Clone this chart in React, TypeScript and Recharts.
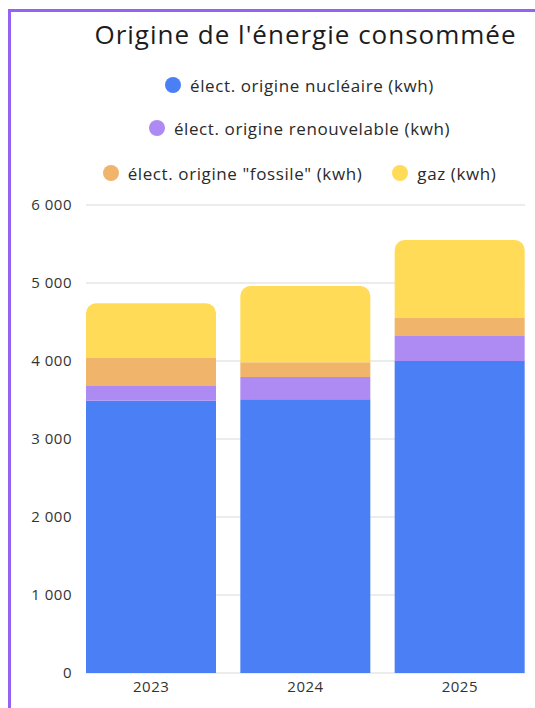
import React from "react";
import { BarChart, Bar, XAxis, YAxis, CartesianGrid, Legend } from "recharts";

const years = ["2023", "2024", "2025"];
const nucleaire = [3490, 3510, 4000];
const renouvelable = [190, 285, 320];
const fossile = [360, 190, 230];
const gaz = [700, 975, 1000];
const yTicks = [0, 1000, 2000, 3000, 4000, 5000, 6000];

const seriesNames = {
  nucleaire: "élect. origine nucléaire (kwh)",
  renouvelable: "élect. origine renouvelable (kwh)",
  fossile: 'élect. origine "fossile" (kwh)',
  gaz: "gaz (kwh)",
};
// legend rows, as in the original card
const legendRows = [["nucleaire"], ["renouvelable"], ["fossile", "gaz"]];

const data = years.map((year, i) => ({
  year,
  nucleaire: nucleaire[i],
  renouvelable: renouvelable[i],
  fossile: fossile[i],
  gaz: gaz[i],
}));

const FONT = "'Open Sans', sans-serif";

const fmt = (v: number) =>
  v >= 1000 ? `${Math.floor(v / 1000)} ${String(v % 1000).padStart(3, "0")}` : String(v);

// Title + three-row legend
const LegendBlock = ({ payload }: any) => {
  const byKey: Record<string, any> = {};
  (payload || []).forEach((p: any) => (byKey[p.dataKey] = p));
  const rowTops = [74, 117, 162];
  return (
    <div style={{ position: "relative", width: 535, height: 190, fontFamily: FONT }}>
      <div
        style={{
          position: "absolute",
          top: 17,
          left: 76,
          width: 459,
          textAlign: "center",
          fontSize: 26,
          letterSpacing: 1,
          lineHeight: "34px",
          color: "#1c1c1c",
        }}
      >
        Origine de l'énergie consommée
      </div>
      {legendRows.map((row, r) => (
        <div
          key={r}
          style={{
            position: "absolute",
            top: rowTops[r],
            left: 70,
            width: 459,
            height: 22,
            display: "flex",
            justifyContent: "center",
            alignItems: "center",
            gap: 30,
          }}
        >
          {row.map((k) => {
            const p = byKey[k];
            if (!p) return null;
            return (
              <div key={k} style={{ display: "flex", alignItems: "center" }}>
                <span
                  style={{
                    width: 16,
                    height: 16,
                    borderRadius: 8,
                    background: p.color,
                    display: "inline-block",
                    marginRight: 9,
                  }}
                />
                <span style={{ fontSize: 17, letterSpacing: 0.6, color: "#2a2a2a" }}>{p.value}</span>
              </div>
            );
          })}
        </div>
      ))}
    </div>
  );
};

export default function App() {
  return (
    <div
      style={{
        position: "absolute",
        top: 0,
        left: 0,
        width: 535,
        height: 708,
        overflow: "hidden",
        background: "#fff",
      }}
    >
      <div
        style={{
          position: "absolute",
          top: 9,
          left: 8,
          width: 600,
          height: 800,
          border: "3px solid #9563f4",
          boxSizing: "border-box",
        }}
      />
      <BarChart
        width={535}
        height={708}
        data={data}
        margin={{ top: 15, right: 10, bottom: 5, left: 0 }}
        barCategoryGap={12}
      >
        <CartesianGrid vertical={false} stroke="#e6e6e6" strokeWidth={1.5} />
        <XAxis
          dataKey="year"
          axisLine={false}
          tickLine={false}
          padding={{ left: -12, right: -12 }}
          tick={{ fontSize: 15, fill: "#333", fontFamily: FONT, letterSpacing: 0.5 }}
        />
        <YAxis
          width={86}
          domain={[0, 6000]}
          ticks={yTicks}
          tickFormatter={fmt}
          axisLine={false}
          tickLine={false}
          tickMargin={8}
          tick={{ fontSize: 15, fill: "#333", fontFamily: FONT, letterSpacing: 0.5 }}
        />
        <Legend
          verticalAlign="top"
          wrapperStyle={{ top: 0, left: 0, width: 535 }}
          content={<LegendBlock />}
        />
        <Bar dataKey="nucleaire" name={seriesNames.nucleaire} stackId="a" fill="#4a7ff5" isAnimationActive={false} />
        <Bar dataKey="renouvelable" name={seriesNames.renouvelable} stackId="a" fill="#ad8bf3" isAnimationActive={false} />
        <Bar dataKey="fossile" name={seriesNames.fossile} stackId="a" fill="#f0b56b" isAnimationActive={false} />
        <Bar dataKey="gaz" name={seriesNames.gaz} stackId="a" fill="#ffdb57" radius={[10, 10, 0, 0]} isAnimationActive={false} />
      </BarChart>
    </div>
  );
}
